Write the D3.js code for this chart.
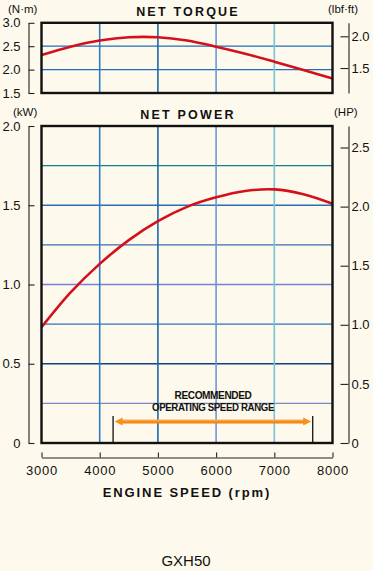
<!DOCTYPE html>
<html><head><meta charset="utf-8">
<script src="https://cdn.jsdelivr.net/npm/d3@7"></script>
<style>
html,body{margin:0;padding:0;background:#fdf9ec;}
svg{display:block;}
text{font-family:"Liberation Sans",Arial,sans-serif;fill:#111;}
</style></head>
<body>
<svg id="c" width="373" height="571"></svg>
<script>
// ---- data ----
const rpm      = [3000, 3500, 4000, 4500, 5000, 5500, 6000, 6500, 7000, 7500, 8000];
const torqueNm = [2.31, 2.49, 2.62, 2.69, 2.69, 2.62, 2.49, 2.34, 2.17, 1.99, 1.81];
const powerKW  = [0.73, 0.95, 1.13, 1.28, 1.40, 1.49, 1.55, 1.59, 1.60, 1.57, 1.51];
const xTicks = [3000, 4000, 5000, 6000, 7000, 8000];
const torqueTicksNm = [1.5, 2.0, 2.5, 3.0];
const torqueTicksLbf = [1.5, 2.0];
const powerTicksKW = [0, 0.5, 1.0, 1.5, 2.0];
const powerTicksHP = [0, 0.5, 1.0, 1.5, 2.0, 2.5];
const torqueGridNm = [2.0, 2.5];
const powerGridKW = [0.25, 0.5, 0.75, 1.0, 1.25, 1.5, 1.75];
const vGridRpm = [4000, 5000, 6000, 7000];
const rangeRpm = [4230, 7660];
const rangeLabel = ["RECOMMENDED", "OPERATING SPEED RANGE"];
const model = "GXH50";

// ---- layout / styles ----
const NM_TO_LBF = 0.7376, KW_TO_HP = 1/0.7457;
const svg = d3.select("#c");
const x = d3.scaleLinear().domain([3000, 8000]).range([41.5, 332.5]);
const yT = d3.scaleLinear().domain([1.5, 3.0]).range([93, 22.8]);
const yTl = d3.scaleLinear().domain([1.5*NM_TO_LBF, 3.0*NM_TO_LBF]).range([93, 22.8]);
const yP = d3.scaleLinear().domain([0, 2.0]).range([443, 126]);
const yPh = d3.scaleLinear().domain([0, 2.0*KW_TO_HP]).range([443, 126]);
const smooth = d3.curveCatmullRom.alpha(0.5);

const vGridColors = {4000:"#2f7cc2", 5000:"#1d6aa6", 6000:"#6a98d8", 7000:"#78c4d8"};
const pGridColors = {0.25:"#7f86c6", 0.5:"#123f8c", 0.75:"#2c74c0", 1.0:"#7a80d2", 1.25:"#3a6fb0", 1.5:"#2a6fb5", 1.75:"#14808a"};

function panel(yS, gridVals, gridColor, top, bottom){
  const g = svg.append("g");
  g.selectAll("line.h").data(gridVals).enter().append("line")
    .attr("x1", x(3000)).attr("x2", x(8000))
    .attr("y1", d=>yS(d)).attr("y2", d=>yS(d))
    .attr("stroke", d=>gridColor(d)).attr("stroke-width", 1.3);
  g.selectAll("line.v").data(vGridRpm).enter().append("line")
    .attr("x1", d=>x(d)).attr("x2", d=>x(d))
    .attr("y1", top).attr("y2", bottom)
    .attr("stroke", d=>vGridColors[d]).attr("stroke-width", 1.6);
  return g;
}

// torque panel
panel(yT, torqueGridNm, ()=>"#1e6fb8", yT(3.0), yT(1.5));
svg.append("path").datum(rpm.map((r,i)=>[r, torqueNm[i]]))
  .attr("fill","none").attr("stroke","#d3111c").attr("stroke-width",2.6)
  .attr("d", d3.line().x(d=>x(d[0])).y(d=>yT(d[1])).curve(smooth));
svg.append("rect").attr("x", x(3000)).attr("y", yT(3.0))
  .attr("width", x(8000)-x(3000)).attr("height", yT(1.5)-yT(3.0))
  .attr("fill","none").attr("stroke","#111").attr("stroke-width",2.4);

// power panel
panel(yP, powerGridKW, d=>pGridColors[d], yP(2.0), yP(0));
svg.append("path").datum(rpm.map((r,i)=>[r, powerKW[i]]))
  .attr("fill","none").attr("stroke","#d3111c").attr("stroke-width",2.6)
  .attr("d", d3.line().x(d=>x(d[0])).y(d=>yP(d[1])).curve(smooth));

// range markers & arrow
svg.selectAll("line.rng").data(rangeRpm).enter().append("line")
  .attr("x1", d=>x(d)).attr("x2", d=>x(d)).attr("y1", 416).attr("y2", yP(0))
  .attr("stroke","#111").attr("stroke-width",1.3);
const defs = svg.append("defs");
const grad = defs.append("linearGradient").attr("id","og").attr("x1",0).attr("x2",0).attr("y1",0).attr("y2",1);
grad.append("stop").attr("offset","0%").attr("stop-color","#fbb45a");
grad.append("stop").attr("offset","50%").attr("stop-color","#f7901e");
grad.append("stop").attr("offset","100%").attr("stop-color","#ef7d10");
const ax1 = x(rangeRpm[0])+1.5, ax2 = x(rangeRpm[1])-1.5, ay = 421.5;
svg.append("rect").attr("x", ax1+6).attr("y", ay-2).attr("width", ax2-ax1-12).attr("height", 4).attr("fill","url(#og)");
svg.append("path").attr("fill","#f7901e")
  .attr("d", `M${ax1},${ay} L${ax1+8},${ay-4} L${ax1+8},${ay+4} Z M${ax2},${ay} L${ax2-8},${ay-4} L${ax2-8},${ay+4} Z`);
svg.selectAll("text.rl").data(rangeLabel).enter().append("text")
  .attr("x", 213).attr("y", (d,i)=>399+i*11.5)
  .attr("text-anchor","middle")
  .attr("font-family","'Liberation Sans Narrow','Liberation Sans',Arial,sans-serif")
  .attr("font-weight","bold").attr("font-size",10.5)
  .attr("textLength",(d,i)=> i===0 ? 77 : 122).attr("lengthAdjust","spacingAndGlyphs")
  .style("letter-spacing","-0.4px")
  .text(d=>d);

svg.append("rect").attr("x", x(3000)).attr("y", yP(2.0))
  .attr("width", x(8000)-x(3000)).attr("height", yP(0)-yP(2.0))
  .attr("fill","none").attr("stroke","#111").attr("stroke-width",2.4);

// axes
function styleAxis(g){
  g.select(".domain").attr("stroke","#222").attr("stroke-width",1.1);
  g.selectAll(".tick line").attr("stroke","#222").attr("stroke-width",1.1);
  g.selectAll(".tick text").attr("font-size",13).attr("fill","#111")
    .attr("font-family","'Liberation Sans',Arial,sans-serif");
}
const fmt1 = d => d===0 ? "0" : d3.format(".1f")(d);
svg.append("g").attr("transform","translate(28.5,0)")
  .call(d3.axisRight(yT).tickValues(torqueTicksNm).tickSize(6).tickSizeOuter(0).tickFormat(fmt1))
  .call(styleAxis).call(g=>g.selectAll(".tick text").attr("x",-8).attr("text-anchor","end"));
svg.append("g").attr("transform","translate(348.5,0)")
  .call(d3.axisLeft(yTl).tickValues(torqueTicksLbf).tickSize(8).tickSizeOuter(0).tickFormat(fmt1))
  .call(styleAxis).call(g=>g.selectAll(".tick text").attr("x",3).attr("text-anchor","start"));
svg.append("g").attr("transform","translate(28.5,0)")
  .call(d3.axisRight(yP).tickValues(powerTicksKW).tickSize(6).tickSizeOuter(0).tickFormat(fmt1))
  .call(styleAxis).call(g=>g.selectAll(".tick text").attr("x",-8).attr("text-anchor","end"));
svg.append("g").attr("transform","translate(348.5,0)")
  .call(d3.axisLeft(yPh).tickValues(powerTicksHP).tickSize(8).tickSizeOuter(0).tickFormat(fmt1))
  .call(styleAxis).call(g=>g.selectAll(".tick text").attr("x",3).attr("text-anchor","start"));
svg.append("g").attr("transform","translate(0,457.5)")
  .call(d3.axisTop(x).tickValues(xTicks).tickSize(5).tickSizeOuter(0).tickFormat(d3.format("d")))
  .call(styleAxis)
  .call(g=>g.selectAll(".tick text").attr("y",17).attr("dy",null).style("letter-spacing","0.8px").attr("dominant-baseline","auto"));

// titles / units
function txt(s, xx, yy, opts={}){
  const t = svg.append("text").attr("x",xx).attr("y",yy).text(s)
    .attr("font-size", opts.size||12).attr("text-anchor", opts.anchor||"start");
  if(opts.bold) t.attr("font-weight","bold");
  if(opts.ls) t.style("letter-spacing", opts.ls+"px");
  return t;
}
txt("NET TORQUE", 188, 16, {anchor:"middle", bold:true, size:12.5, ls:2.2});
txt("NET POWER", 188, 119, {anchor:"middle", bold:true, size:12.5, ls:2.2});
txt("(N·m)", 8, 13, {size:11.5});
txt("(lbf·ft)", 328, 13, {size:11.5});
txt("(kW)", 13, 116, {size:11.5});
txt("(HP)", 334, 116, {size:11.5});
txt("ENGINE SPEED (rpm)", 187, 497, {anchor:"middle", bold:true, size:13, ls:1.9});
txt(model, 186, 566, {anchor:"middle", size:15});
</script>
</body></html>
